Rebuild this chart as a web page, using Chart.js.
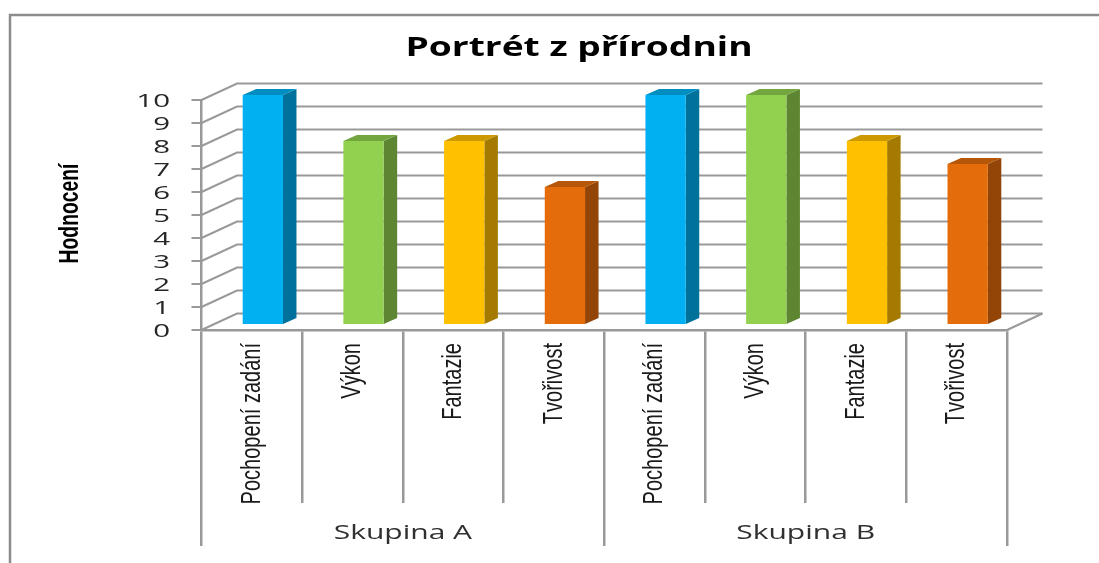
<!DOCTYPE html>
<html><head><meta charset="utf-8">
<style>html,body{margin:0;padding:0;background:#fff}#w{width:1099px;height:563px;position:relative}</style>
<script src="https://cdn.jsdelivr.net/npm/chart.js@4"></script>
</head><body><div id="w"><canvas id="c" width="1099" height="563"></canvas></div>
<script>
const chartTitle = "Portrét z přírodnin";
const yTitle = "Hodnocení";
const categories = ["Pochopení zadání","Výkon","Fantazie","Tvořivost","Pochopení zadání","Výkon","Fantazie","Tvořivost"];
const groups = ["Skupina A","Skupina B"];
const values = [10,8,8,6,10,10,8,7];
const frontColors = ["#00B0F0","#92D050","#FFC000","#E46C0A","#00B0F0","#92D050","#FFC000","#E46C0A"];
const sideColors = ["#00719B","#5E8632","#A47B00","#934507","#00719B","#5E8632","#A47B00","#934507"];
const topColors = ["#008DC0","#74A640","#CC9900","#B65608","#008DC0","#74A640","#CC9900","#B65608"];
const GRID = "#999999";
const DEPTH_X = 35.5, DEPTH_Y = 16.5, BAR_DX = 11, BAR_DY = -5, SIDE_X = 13.5, SIDE_Y = 6;

function stretched(c, text, x, y, font, color, factor, rot, align){
  c.save();
  c.translate(x,y);
  if(rot) c.rotate(rot);
  c.scale(factor,1);
  c.font = font; c.fillStyle = color; c.textAlign = align||"center"; c.textBaseline = "middle";
  c.fillText(text,0,0);
  c.restore();
}

const walls = {
  id:"walls",
  beforeDraw(chart){
    const c = chart.ctx;
    c.save();
    c.strokeStyle = "#8c8c8c"; c.lineWidth = 2.5;
    c.beginPath(); c.moveTo(10,563); c.lineTo(10,15); c.lineTo(1099,15); c.stroke();
    c.restore();
    stretched(c, chartTitle, 579, 49, "bold 26px 'Open Sans'", "#000", 1.43);
  },
  beforeDatasetsDraw(chart){
    const c = chart.ctx, a = chart.chartArea, y = chart.scales.y;
    c.save();
    c.strokeStyle = GRID; c.lineWidth = 2;
    y.ticks.forEach(t=>{
      const p = y.getPixelForValue(t.value);
      c.beginPath(); c.moveTo(a.left,p); c.lineTo(a.left+DEPTH_X,p-DEPTH_Y); c.lineTo(a.right+DEPTH_X,p-DEPTH_Y); c.stroke();
    });
    const p0 = y.getPixelForValue(0);
    c.beginPath(); c.moveTo(a.right,p0); c.lineTo(a.right+DEPTH_X,p0-DEPTH_Y); c.stroke();
    c.restore();
    c.save(); c.translate(BAR_DX,BAR_DY);
    chart.getDatasetMeta(0).data.forEach((b,i)=>{
      const l=b.x-b.width/2, r=b.x+b.width/2, t=b.y, bo=b.base;
      c.fillStyle = sideColors[i];
      c.beginPath(); c.moveTo(r,t); c.lineTo(r+SIDE_X,t-SIDE_Y); c.lineTo(r+SIDE_X,bo-SIDE_Y); c.lineTo(r,bo); c.closePath(); c.fill();
      c.fillStyle = topColors[i];
      c.beginPath(); c.moveTo(l,t); c.lineTo(l+SIDE_X,t-SIDE_Y); c.lineTo(r+SIDE_X,t-SIDE_Y); c.lineTo(r,t); c.closePath(); c.fill();
    });
  },
  afterDatasetsDraw(chart){ chart.ctx.restore(); },
  afterDraw(chart){
    const c = chart.ctx, {x,x2,y} = chart.scales;
    y.ticks.forEach(t=>{
      stretched(c, String(t.value), 170, y.getPixelForValue(t.value)+2, "19px 'Open Sans'", "#262626", 1.55, 0, "right");
    });
    categories.forEach((label,i)=>{
      stretched(c, label, x.getPixelForTick(i), x.top+13, "28px 'Liberation Sans'", "#1a1a1a", 0.715, -Math.PI/2, "right");
    });
    groups.forEach((label,i)=>{
      stretched(c, label, x2.getPixelForTick(i), 533, "20px 'Open Sans'", "#303030", 1.5);
    });
    stretched(c, yTitle, 70, 213.5, "bold 28px 'Liberation Sans'", "#000", 0.69, -Math.PI/2);
  }
};

new Chart(document.getElementById("c"),{
  type:"bar",
  data:{labels:categories,datasets:[{data:values,backgroundColor:frontColors,borderWidth:0,barPercentage:0.4,categoryPercentage:1,clip:false,xAxisID:"x",yAxisID:"y"}]},
  plugins:[walls],
  options:{
    responsive:false,animation:false,
    layout:{padding:{left:60,top:100,right:92,bottom:17}},
    plugins:{legend:{display:false},title:{display:false},tooltip:{enabled:false}},
    scales:{
      y:{min:0,max:10,
        afterFit(s){s.width=141.5;},
        ticks:{stepSize:1,autoSkip:false,display:false},
        grid:{drawOnChartArea:false,color:GRID,lineWidth:2,tickLength:10},
        border:{color:GRID,width:2.5}
      },
      x:{position:"bottom",
        afterFit(s){s.height=173;},
        ticks:{autoSkip:false,display:false},
        grid:{drawOnChartArea:false,color:GRID,lineWidth:2.5,tickLength:173},
        border:{color:GRID,width:2.5}
      },
      x2:{position:"bottom",type:"category",labels:groups,
        afterFit(s){s.height=43;},
        ticks:{display:false},
        grid:{drawOnChartArea:false,color:GRID,lineWidth:2.5,tickLength:43},
        border:{display:false}
      }
    }
  }
});
</script></body></html>
